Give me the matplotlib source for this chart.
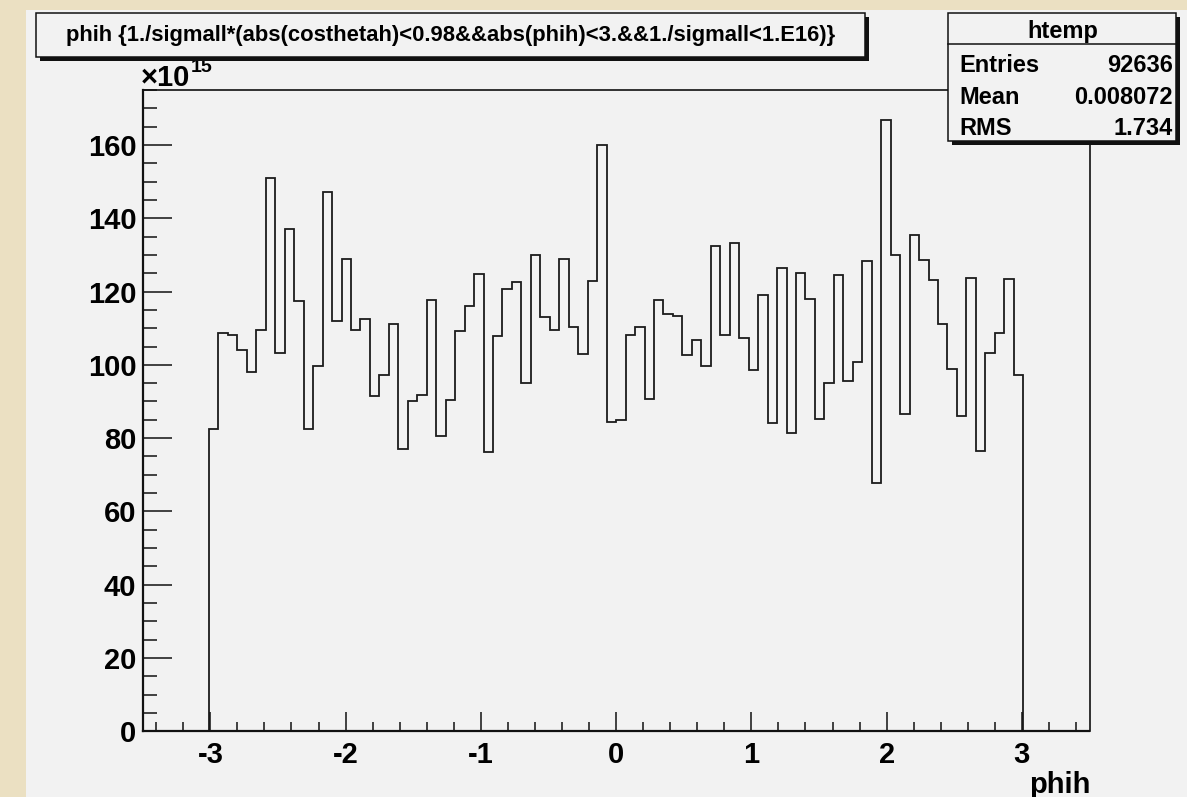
import numpy as np
import matplotlib
matplotlib.use("Agg")
import matplotlib.pyplot as plt
from matplotlib.patches import Rectangle
from matplotlib.ticker import MultipleLocator

plt.rcParams['font.family'] = ['Liberation Sans', 'DejaVu Sans']
plt.rcParams['axes.unicode_minus'] = False

# ---------------- data ----------------
x_min, x_max, n_bins = -3.5, 3.5, 100
first_filled_bin = 7
counts_1e15 = [
    82.6, 108.8, 108.2, 104.1, 98.0, 109.5, 151.1, 103.1, 137.0, 117.4,
    82.6, 99.6, 147.1, 112.0, 128.9, 109.6, 112.5, 91.6, 97.3, 111.2,
    77.0, 90.2, 91.9, 117.8, 80.7, 90.5, 109.1, 116.1, 124.9, 76.1,
    107.9, 120.8, 122.7, 95.1, 130.1, 113.1, 109.5, 129.0, 110.3, 103.0,
    123.0, 160.1, 84.5, 85.0, 108.2, 110.3, 90.7, 117.7, 114.0, 113.4,
    102.7, 106.9, 99.7, 132.4, 108.2, 133.3, 107.4, 98.7, 119.1, 84.2,
    126.4, 81.4, 125.1, 118.0, 85.1, 95.1, 124.6, 95.6, 100.7, 128.3,
    67.7, 166.8, 130.0, 86.6, 135.5, 128.6, 123.2, 111.2, 99.0, 86.1,
    123.7, 76.6, 103.1, 108.6, 123.3, 97.2,
]
x_ticks = [-3, -2, -1, 0, 1, 2, 3]
y_ticks = [0, 20, 40, 60, 80, 100, 120, 140, 160]
title_text = "phih {1./sigmall*(abs(costhetah)<0.98&&abs(phih)<3.&&1./sigmall<1.E16)}"
x_label = "phih"
stats_name = "htemp"
stats_rows = [("Entries", "92636"), ("Mean", "0.008072"), ("RMS", "1.734")]
y_multiplier = ("\u00d710", "15")

edges = np.linspace(x_min, x_max, n_bins + 1)
vals = np.zeros(n_bins)
vals[first_filled_bin:first_filled_bin + len(counts_1e15)] = counts_1e15

# ---------------- figure ----------------
W, H = 1187, 797
fig = plt.figure(figsize=(W / 100, H / 100), dpi=100)
fig.patch.set_facecolor('#ebe0c2')

def fx(px):
    return px / W

def fy(py):
    return 1 - py / H

PAD = '#f2f2f2'
# background pad
bg = fig.add_axes([0, 0, 1, 1], zorder=0)
bg.set_xlim(0, W); bg.set_ylim(H, 0); bg.axis('off')
bg.add_patch(Rectangle((26, 10), W - 26, H - 10, facecolor=PAD, edgecolor='none'))

# main axes
L, R, T, B = 142.7, 1089.5, 90, 731.3
ax = fig.add_axes([fx(L), fy(B), fx(R) - fx(L), fy(T) - fy(B)], zorder=1)
ax.set_facecolor('none')
ax.stairs(vals, edges, baseline=0, color='#1c1c1c', lw=1.3)
ax.set_xlim(x_min, x_max)
ax.set_ylim(0, 175)
ax.set_xticks(x_ticks)
ax.set_yticks(y_ticks)
ax.set_xticklabels([str(v) for v in x_ticks])
ax.set_yticklabels([str(v) for v in y_ticks])
ax.xaxis.set_minor_locator(MultipleLocator(0.2))
ax.yaxis.set_minor_locator(MultipleLocator(5))
ax.tick_params(axis='both', which='both', direction='in', top=False, right=False,
               color='#111111', width=1.1)
ax.tick_params(axis='y', which='major', length=21, pad=4.5, labelsize=21)
ax.tick_params(axis='y', which='minor', length=10)
ax.tick_params(axis='x', which='major', length=13.7, pad=7, labelsize=21)
ax.tick_params(axis='x', which='minor', length=6.8)
for lab in ax.get_xticklabels() + ax.get_yticklabels():
    lab.set_fontweight('bold')
for s in ['left', 'bottom']:
    ax.spines[s].set_linewidth(1.6)
for s in ['top', 'right']:
    ax.spines[s].set_linewidth(1.2)
for s in ax.spines.values():
    s.set_color('#111111')

# overlay
ov = fig.add_axes([0, 0, 1, 1], zorder=2)
ov.set_xlim(0, W); ov.set_ylim(H, 0); ov.axis('off')
ov.patch.set_alpha(0)

# x label
ov.text(1090, 793, x_label, fontsize=21, fontweight='bold', ha='right', va='baseline')

# multiplier
ov.text(141, 86, y_multiplier[0], fontsize=21, fontweight='bold', ha='left', va='baseline', zorder=3)
ov.text(191, 72, y_multiplier[1], fontsize=14, fontweight='bold', ha='left', va='baseline', zorder=3)

def shadow_box(x0, y0, x1, y1, sh=3.5, z=5):
    ov.add_patch(Rectangle((x0 + sh, y0 + sh), x1 - x0, y1 - y0, facecolor='#111111',
                           edgecolor='none', zorder=z))
    ov.add_patch(Rectangle((x0, y0), x1 - x0, y1 - y0, facecolor=PAD,
                           edgecolor='#111111', lw=1.1, zorder=z + 0.1))

# title box
shadow_box(36, 13, 865, 57)
t = ov.text(450.5, 35.5, title_text, fontsize=13, fontweight='bold', ha='center', va='center',
            zorder=6)
fig.canvas.draw()
w = t.get_window_extent().width
t.set_fontsize(13 * 767 / w)

# stats box
shadow_box(948, 13, 1176, 141)
ov.plot([948, 1176], [44.3, 44.3], color='#111111', lw=1.1, zorder=6)
ov.text(1063, 37.5, stats_name, fontsize=17, fontweight='bold', ha='center', va='baseline', zorder=6)
for (name, value), yb in zip(stats_rows, [71.7, 104.0, 134.5]):
    ov.text(959.5, yb, name, fontsize=17, fontweight='bold', ha='left', va='baseline', zorder=6)
    ov.text(1172.5, yb, value, fontsize=17, fontweight='bold', ha='right', va='baseline', zorder=6)

fig.savefig('out.png', dpi=100, facecolor=fig.get_facecolor())
